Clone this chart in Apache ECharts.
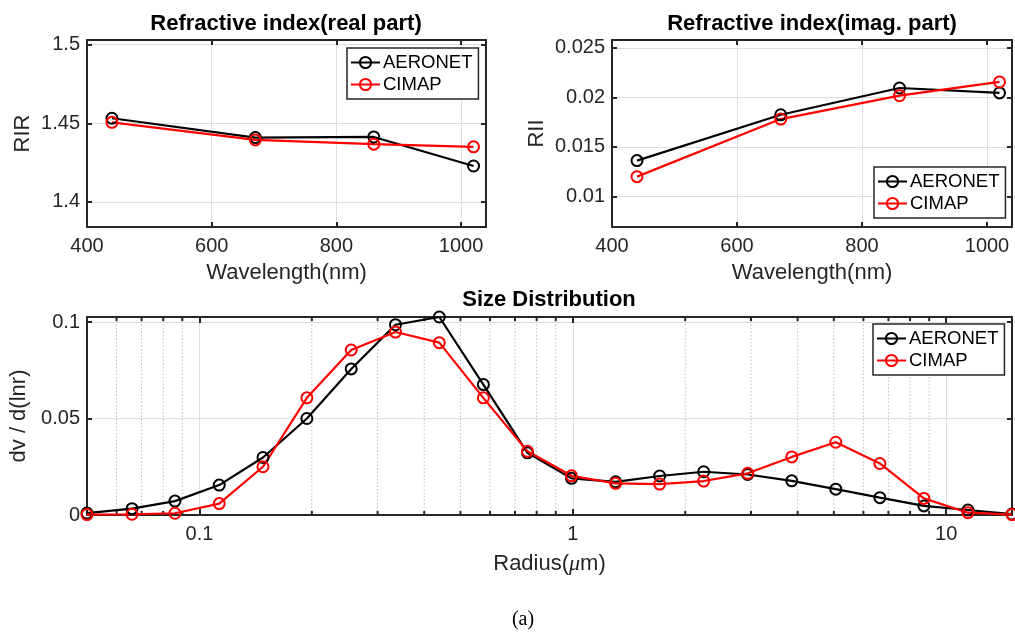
<!DOCTYPE html>
<html>
<head>
<meta charset="utf-8">
<script src="https://cdn.jsdelivr.net/npm/echarts@6/dist/echarts.min.js"></script>
<style>html,body{margin:0;padding:0;background:#fff}#c{width:1015px;height:634px}</style>
</head>
<body>
<div id="c"></div>
<script>
// ---- data ----
const wavelengths = [440, 670, 860, 1020];
const rirAeronet = [1.4532, 1.4409, 1.4413, 1.4228];
const rirCimap = [1.4506, 1.4394, 1.4367, 1.4350];
const riiAeronet = [0.01361, 0.01824, 0.02095, 0.02045];
const riiCimap = [0.01199, 0.01781, 0.02017, 0.02156];
const radius = [0.050, 0.066, 0.086, 0.113, 0.148, 0.194, 0.255, 0.335, 0.439, 0.576, 0.756,
                0.992, 1.302, 1.708, 2.241, 2.940, 3.857, 5.061, 6.641, 8.713, 11.432, 15.000];
const sdAeronet = [0.0010, 0.0033, 0.0072, 0.0155, 0.0298, 0.0500, 0.0757, 0.0986, 0.1026, 0.0676, 0.0322,
                   0.0190, 0.0172, 0.0202, 0.0224, 0.0210, 0.0177, 0.0134, 0.0090, 0.0047, 0.0026, 0.0005];
const sdCimap = [0.0002, 0.0004, 0.0009, 0.0059, 0.0250, 0.0607, 0.0855, 0.0948, 0.0893, 0.0607, 0.0330,
                 0.0203, 0.0164, 0.0160, 0.0176, 0.0216, 0.0301, 0.0377, 0.0267, 0.0086, 0.0012, 0.0002];
// ---- tick labels ----
const wlTicks = [400, 600, 800, 1000];
const rirTicks = [1.4, 1.45, 1.5];
const riiTicks = [0.01, 0.015, 0.02, 0.025];
const sdTicks = [0, 0.05, 0.1];
const radiusTicks = [0.1, 1, 10];
const radiusMinor = [0.06, 0.07, 0.08, 0.09, 0.2, 0.3, 0.4, 0.5, 0.6, 0.7, 0.8, 0.9,
                     2, 3, 4, 5, 6, 7, 8, 9];
const seriesNames = ['AERONET', 'CIMAP'];
const texts = {
  t1: 'Refractive index(real part)', t2: 'Refractive index(imag. part)', t3: 'Size Distribution',
  xw: 'Wavelength(nm)', y1: 'RIR', y2: 'RII', y3: 'dv / d(lnr)', xr: 'Radius({i|\u03bc}m)', cap: '(a)'
};

// ---- styling ----
const FONT = "'Liberation Sans', Arial, Helvetica, sans-serif";
const AX = '#262626';
const GRIDC = '#dedede';
const RIR_RANGE = [1.384, 1.503];
const RII_RANGE = [0.0069, 0.0258];
const WL_RANGE = [400, 1040];
const R_RANGE = [0.05, 15];
const SD_RANGE = [0, 0.1026];

function axisBase(extra) {
  return Object.assign({
    axisLine: { show: true, onZero: false, lineStyle: { color: AX, width: 2 } },
    axisTick: { show: true, inside: true, length: 5, lineStyle: { color: AX, width: 2 } },
    axisLabel: { color: AX, fontSize: 20, fontFamily: FONT, margin: 7, formatter: function (v) { return String(v); } },
    splitLine: { show: true, lineStyle: { color: GRIDC, width: 1 } },
    nameTextStyle: { color: AX, fontSize: 22, fontFamily: FONT,
      rich: { i: { fontStyle: 'italic', fontFamily: "'Liberation Serif', serif", fontSize: 22, color: AX } } },
    nameLocation: 'middle'
  }, extra);
}
function mirror(a, pos) {
  const m = Object.assign({}, a);
  m.position = pos;
  m.axisLabel = { show: false };
  m.axisTick = Object.assign({}, a.axisTick);
  m.splitLine = { show: false };
  delete m.name;
  return m;
}
function withTicks(a, vals, xAxis) {
  a.axisLabel.customValues = vals;
  a.axisTick.customValues = vals;
  if (xAxis) a.axisLabel.margin = 9;
  return a;
}

const x0 = withTicks(axisBase({ type: 'value', gridIndex: 0, min: WL_RANGE[0], max: WL_RANGE[1], name: texts.xw, nameGap: 35 }), wlTicks, true);
const x2 = withTicks(axisBase({ type: 'value', gridIndex: 1, min: WL_RANGE[0], max: WL_RANGE[1], name: texts.xw, nameGap: 35 }), wlTicks, true);
const x4 = withTicks(axisBase({ type: 'log', logBase: 10, gridIndex: 2, min: R_RANGE[0], max: R_RANGE[1], name: texts.xr, nameGap: 38 }), radiusTicks, true);
x4.axisTick.length = 6;
const y0 = withTicks(axisBase({ type: 'value', gridIndex: 0, min: RIR_RANGE[0], max: RIR_RANGE[1], name: texts.y1, nameGap: 53 }), rirTicks);
const y2 = withTicks(axisBase({ type: 'value', gridIndex: 1, min: RII_RANGE[0], max: RII_RANGE[1], name: texts.y2, nameGap: 64 }), riiTicks);
const y4 = withTicks(axisBase({ type: 'value', gridIndex: 2, min: SD_RANGE[0], max: SD_RANGE[1], name: texts.y3, nameGap: 50 }), sdTicks);

function line(name, color, xi, yi, xs, ys) {
  return {
    type: 'line', name: name, xAxisIndex: xi, yAxisIndex: yi,
    data: xs.map((x, i) => [x, ys[i]]),
    symbol: 'circle', symbolSize: 11, showAllSymbol: true,
    lineStyle: { color: color, width: 2.2 },
    itemStyle: { color: 'rgba(255,255,255,0)', borderColor: color, borderWidth: 2 },
    emphasis: { disabled: true }, z: 3, animation: false
  };
}

function legend(left, top) {
  return {
    data: seriesNames, orient: 'vertical', left: left, top: top,
    itemWidth: 29, itemHeight: 14, itemGap: 3,
    padding: [5, 6, 5, 3],
    borderColor: AX, borderWidth: 1.5, backgroundColor: '#fff',
    textStyle: { color: '#000', fontSize: 18.5, fontFamily: FONT, padding: [0, 0, 0, -2] },
    selectedMode: false, z: 10
  };
}

const option = {
  animation: false,
  backgroundColor: '#fff',
  grid: [
    { left: 87, top: 40, width: 399, height: 187 },
    { left: 612, top: 40, width: 400, height: 187 },
    { left: 87, top: 317, width: 925, height: 198 }
  ],
  xAxis: [x0, mirror(x0, 'top'), x2, mirror(x2, 'top'), x4, mirror(x4, 'top')],
  yAxis: [y0, mirror(y0, 'right'), y2, mirror(y2, 'right'), y4, mirror(y4, 'right')],
  legend: [legend(347, 48), legend(874, 167), legend(873, 324)],
  series: [
    {
      type: 'custom', xAxisIndex: 4, yAxisIndex: 4, silent: true, z: 1,
      data: radiusMinor.map(v => [v, 0]),
      renderItem: function (params, api) {
        const v = api.value(0);
        const p0 = api.coord([v, SD_RANGE[0]]);
        const p1 = api.coord([v, SD_RANGE[1]]);
        return {
          type: 'group', children: [
            { type: 'line', shape: { x1: p0[0], y1: p0[1], x2: p1[0], y2: p1[1] },
              style: { stroke: '#bdbdbd', lineWidth: 1, lineDash: [1.5, 2] } },
            { type: 'line', shape: { x1: p0[0], y1: p0[1], x2: p0[0], y2: p0[1] - 4 },
              style: { stroke: AX, lineWidth: 2 } },
            { type: 'line', shape: { x1: p1[0], y1: p1[1], x2: p1[0], y2: p1[1] + 4 },
              style: { stroke: AX, lineWidth: 2 } }
          ]
        };
      }
    },
    line('AERONET', '#000000', 0, 0, wavelengths, rirAeronet),
    line('CIMAP', '#ff0000', 0, 0, wavelengths, rirCimap),
    line('AERONET', '#000000', 2, 2, wavelengths, riiAeronet),
    line('CIMAP', '#ff0000', 2, 2, wavelengths, riiCimap),
    line('AERONET', '#000000', 4, 4, radius, sdAeronet),
    line('CIMAP', '#ff0000', 4, 4, radius, sdCimap)
  ],
  graphic: [
    { type: 'text', x: 286, y: 24, style: { text: texts.t1, fill: '#000', font: "bold 22px " + FONT, textAlign: 'center', textVerticalAlign: 'middle' } },
    { type: 'text', x: 812, y: 24, style: { text: texts.t2, fill: '#000', font: "bold 22px " + FONT, textAlign: 'center', textVerticalAlign: 'middle' } },
    { type: 'text', x: 549, y: 300, style: { text: texts.t3, fill: '#000', font: "bold 22px " + FONT, textAlign: 'center', textVerticalAlign: 'middle' } },
    { type: 'text', x: 523, y: 620, style: { text: texts.cap, fill: '#000', font: "20px 'Liberation Serif', 'Times New Roman', serif", textAlign: 'center', textVerticalAlign: 'middle' } }
  ]
};

const chart = echarts.init(document.getElementById('c'), null, { renderer: 'canvas' });
chart.setOption(option);
</script>
</body>
</html>
